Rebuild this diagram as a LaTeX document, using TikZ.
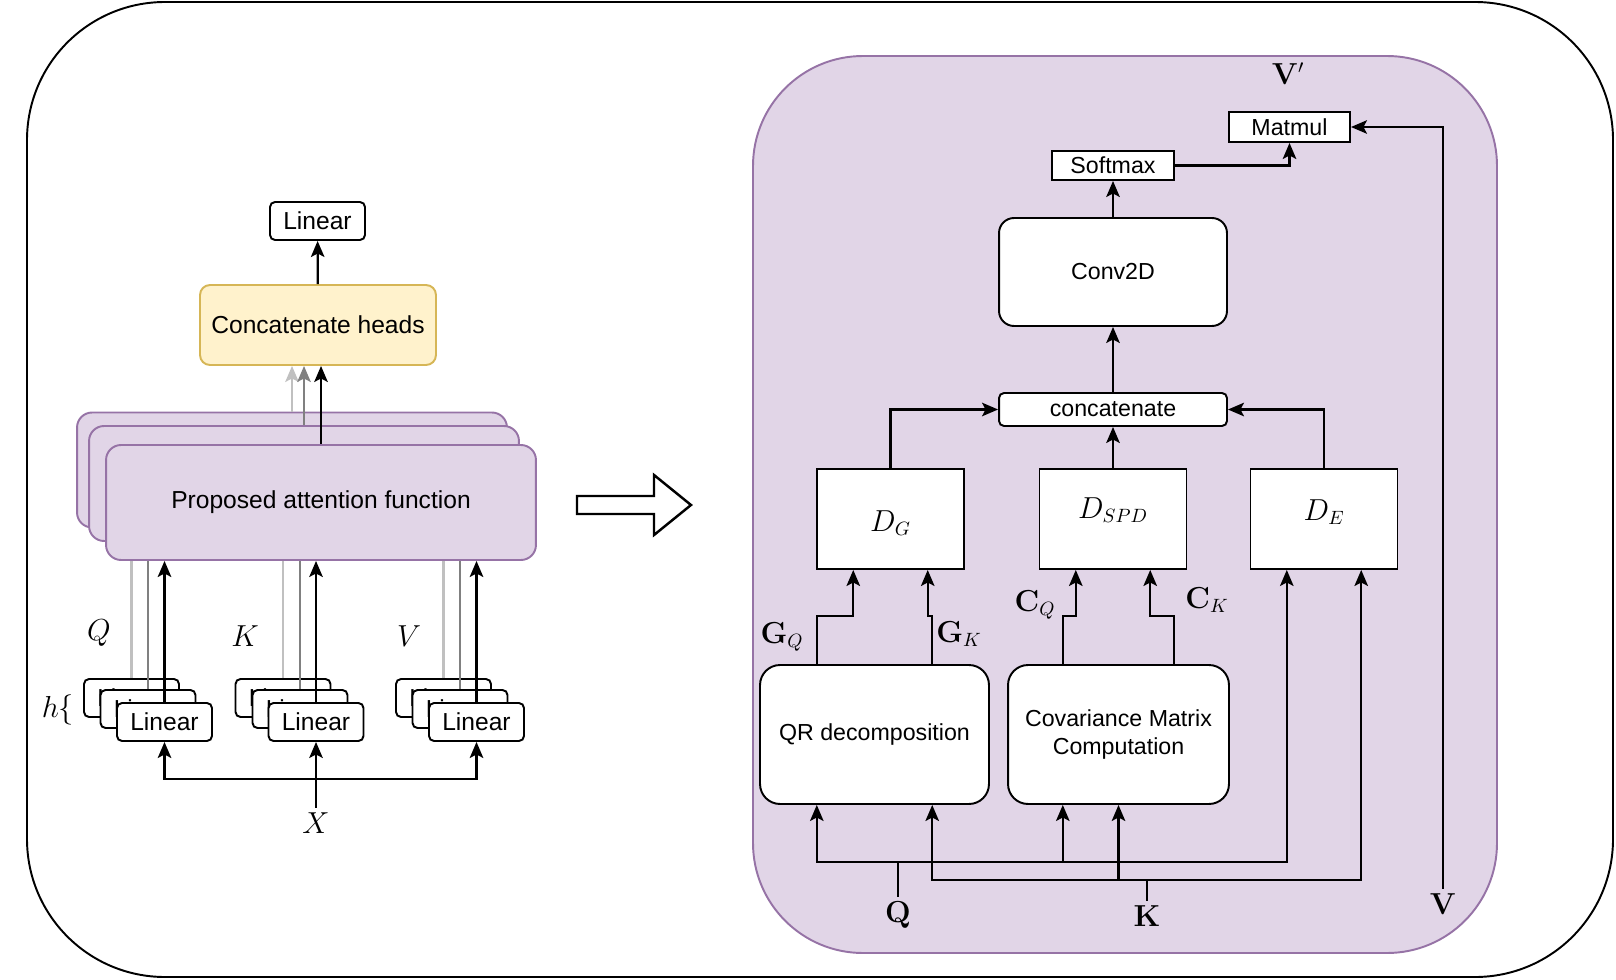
\documentclass[tikz,border=0pt]{standalone}
\usepackage[no-math]{fontspec}
\setmainfont{Liberation Sans}
\usetikzlibrary{arrows.meta,calc}

\definecolor{attnFill}{HTML}{E1D5E7}
\definecolor{attnDraw}{HTML}{9673A6}
\definecolor{headFill}{HTML}{FFF2CC}
\definecolor{headDraw}{HTML}{D6B656}
\definecolor{lightLine}{HTML}{C0C0C0}
\definecolor{darkLine}{HTML}{808080}

\begin{document}
\begin{tikzpicture}[x=0.02cm, y=-0.02cm,
    boxStyle/.style={draw, fill=white, line width=1.1pt, inner sep=0pt, align=center, font=\fontsize{13.2}{16.4}\selectfont},
    linearStyle/.style={boxStyle, rounded corners=0.1cm, minimum width=1.9cm, minimum height=0.76cm, font=\fontsize{14}{16}\selectfont},
    attnStyle/.style={boxStyle, fill=attnFill, draw=attnDraw, rounded corners=0.3cm, minimum width=8.6cm, minimum height=2.3cm, font=\fontsize{14}{16}\selectfont},
    distStyle/.style={boxStyle, minimum width=2.94cm, minimum height=2cm},
    bigStyle/.style={boxStyle, rounded corners=0.4cm, minimum height=2.78cm},
    smallStyle/.style={boxStyle, minimum height=0.6cm},
    labelStyle/.style={inner sep=2.5pt, font=\fontsize{16}{18}\selectfont},
    wireStyle/.style={line width=1.3pt},
    arrowStyle/.style={line width=1.3pt, -{Stealth[length=0.32cm, width=0.27cm, inset=0.07cm]}}]

    \useasboundingbox (0,0) rectangle (1616,980);

    % Frame
    \draw[line width=1.1pt, rounded corners=2.76cm] (27,2) rectangle (1613,977);

    % Left: multi-head block
    \node[linearStyle] (linOut) at (317.5,221) {Linear};
    \node[boxStyle, fill=headFill, draw=headDraw, rounded corners=0.2cm, minimum width=4.72cm, minimum height=1.6cm, font=\fontsize{14}{16}\selectfont] (heads) at (318,325) {Concatenate heads};

    \node[attnStyle] (attnB) at (292,470) {};
    \node[attnStyle] (attnM) at (304,483.5) {};
    \node[attnStyle] (attnF) at (321,502.5) {Proposed attention function};

    % Linear projections
    \node[linearStyle] (qlinB) at (131.5,698) {Linear};
    \node[linearStyle] (qlinM) at (148,709) {Linear};
    \node[linearStyle] (qlinF) at (164.5,722) {Linear};

    \node[linearStyle] (klinB) at (283,698) {Linear};
    \node[linearStyle] (klinM) at (300,709) {Linear};
    \node[linearStyle] (klinF) at (316,722) {Linear};

    \node[linearStyle] (vlinB) at (443.5,698) {Linear};
    \node[linearStyle] (vlinM) at (460,709) {Linear};
    \node[linearStyle] (vlinF) at (476.5,722) {Linear};

    \node[labelStyle] (qName) at (99,633) {$Q$};
    \node[labelStyle] (kName) at (245,636) {$K$};
    \node[labelStyle] (vName) at (409,636) {$V$};
    \node[labelStyle, font=\fontsize{17}{18}\selectfont] (hName) at (58,710) {$h\{$};
    \node[labelStyle, font=\fontsize{17}{18}\selectfont] (X) at (316,823) {$X$};
    \coordinate (xSplit) at (316,779);

    % Left edges
    \draw[arrowStyle] (heads) -- (linOut);
    \draw[arrowStyle, lightLine] (attnB) -- (attnB |- heads.south);
    \draw[arrowStyle, darkLine] (attnM) -- (attnM |- heads.south);
    \draw[arrowStyle] (attnF) -- (attnF |- heads.south);

    \draw[wireStyle, lightLine] (qlinB) -- (qlinB |- attnF.south);
    \draw[wireStyle, darkLine] (qlinM) -- (qlinM |- attnF.south);
    \draw[arrowStyle] (qlinF) -- (qlinF |- attnF.south);
    \draw[wireStyle, lightLine] (klinB) -- (klinB |- attnF.south);
    \draw[wireStyle, darkLine] (klinM) -- (klinM |- attnF.south);
    \draw[arrowStyle] (klinF) -- (klinF |- attnF.south);
    \draw[wireStyle, lightLine] (vlinB) -- (vlinB |- attnF.south);
    \draw[wireStyle, darkLine] (vlinM) -- (vlinM |- attnF.south);
    \draw[arrowStyle] (vlinF) -- (vlinF |- attnF.south);

    \draw[arrowStyle] (X) -- (klinF);
    \draw[arrowStyle] (xSplit) -| (qlinF);
    \draw[arrowStyle] (xSplit) -| (vlinF);

    % Block arrow
    \draw[line width=1.4pt, fill=white] (577,496) -- (654,496) -- (654,475) -- (691,505) -- (654,535) -- (654,514) -- (577,514) -- cycle;

    % Right: attention function
    \draw[line width=1.1pt, draw=attnDraw, fill=attnFill, rounded corners=2.2cm] (753,56) rectangle (1497,953);

    \node[labelStyle] (vOut) at (1288,74) {$\mathbf{V}'$};
    \node[smallStyle, minimum width=2.42cm] (matmul) at (1289.5,127) {Matmul};
    \node[smallStyle, minimum width=2.44cm, minimum height=0.58cm] (softmax) at (1113,165.5) {Softmax};
    \node[boxStyle, rounded corners=0.3cm, minimum width=4.56cm, minimum height=2.16cm] (conv) at (1113,272) {Conv2D};
    \node[boxStyle, rounded corners=0.1cm, minimum width=4.56cm, minimum height=0.66cm] (concat) at (1113,409.5) {concatenate};

    \node[distStyle, label={[labelStyle, yshift=-0.08cm]center:$D_G$}] (dG) at (890.5,519) {};
    \node[distStyle, label={[labelStyle, yshift=0.18cm]center:$D_{SPD}$}] (dSPD) at (1113,519) {};
    \node[distStyle, label={[labelStyle, yshift=0.14cm]center:$D_E$}] (dE) at (1324,519) {};

    \node[bigStyle, minimum width=4.58cm] (qr) at (874.5,734.5) {QR decomposition};
    \node[bigStyle, minimum width=4.42cm] (cov) at (1118.5,734.5) {Covariance Matrix\\Computation};

    \node[labelStyle] (gqName) at (782,637) {$\mathbf{G}_Q$};
    \node[labelStyle] (gkName) at (959,634) {$\mathbf{G}_K$};
    \node[labelStyle] (cqName) at (1035,605) {$\mathbf{C}_Q$};
    \node[labelStyle] (ckName) at (1207,600) {$\mathbf{C}_K$};

    \node[labelStyle] (qIn) at (898,915) {$\mathbf{Q}$};
    \node[labelStyle] (kIn) at (1147,916) {$\mathbf{K}$};
    \node[labelStyle] (vIn) at (1443,904) {$\mathbf{V}$};
    \coordinate (qSplit) at (898,862);
    \coordinate (kSplit) at (1147,880);

    % Right edges
    \draw[wireStyle] (qIn) -- (qSplit);
    \draw[arrowStyle] (qSplit) -| ($(qr.south west)!0.25!(qr.south east)$);
    \draw[arrowStyle] (qSplit) -| ($(cov.south west)!0.25!(cov.south east)$);
    \draw[arrowStyle] (qSplit) -| ($(dE.south west)!0.25!(dE.south east)$);
    \draw[wireStyle] (kIn) -- (kSplit);
    \draw[arrowStyle] (kSplit) -| ($(qr.south west)!0.75!(qr.south east)$);
    \draw[arrowStyle] (kSplit) -| (cov.south);
    \draw[arrowStyle] (kSplit) -| ($(dE.south west)!0.75!(dE.south east)$);

    \draw[arrowStyle] ($(qr.north west)!0.25!(qr.north east)$) -- ++(0,-48) -| ($(dG.south west)!0.25!(dG.south east)$);
    \draw[arrowStyle] ($(qr.north west)!0.75!(qr.north east)$) -- ++(0,-48) -| ($(dG.south west)!0.75!(dG.south east)$);
    \draw[arrowStyle] ($(cov.north west)!0.25!(cov.north east)$) -- ++(0,-48) -| ($(dSPD.south west)!0.25!(dSPD.south east)$);
    \draw[arrowStyle] ($(cov.north west)!0.75!(cov.north east)$) -- ++(0,-48) -| ($(dSPD.south west)!0.75!(dSPD.south east)$);

    \draw[arrowStyle] (dG) |- (concat);
    \draw[arrowStyle] (dSPD) -- (concat);
    \draw[arrowStyle] (dE) |- (concat);
    \draw[arrowStyle] (concat) -- (conv);
    \draw[arrowStyle] (conv) -- (softmax);
    \draw[arrowStyle] (softmax) -| (matmul);
    \draw[arrowStyle] (vIn) |- (matmul);
\end{tikzpicture}
\end{document}
